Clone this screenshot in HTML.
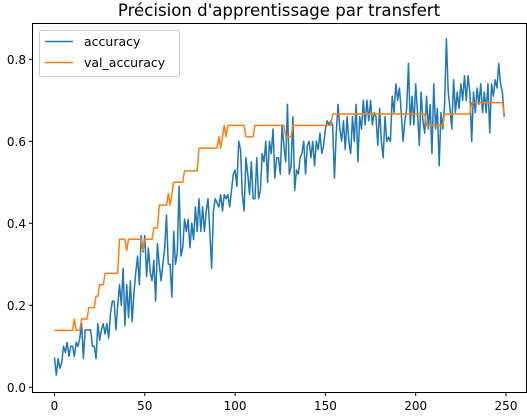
<!DOCTYPE html>
<html><head><meta charset="utf-8"><style>
body{margin:0;background:#fff}
svg{display:block;font-family:"DejaVu Sans","Liberation Sans",sans-serif}
</style></head><body>
<svg id="chart" width="527" height="416" viewBox="0 0 527 416" xmlns="http://www.w3.org/2000/svg">
<text x="279" y="16" text-anchor="middle" font-size="16.6">Précision d'apprentissage par transfert</text>
<rect x="32.5" y="23.5" width="494" height="369" fill="none" stroke="#000" stroke-width="1"/>
<g id="xticks"></g><g id="yticks"></g>
<polyline id="acc" fill="none" stroke="#1f77b4" stroke-width="1.5" stroke-linejoin="round"/>
<polyline id="val" fill="none" stroke="#ff7f0e" stroke-width="1.5" stroke-linejoin="round"/>
<g>
<rect x="39.5" y="30.5" width="140" height="46" rx="2" fill="#fff" fill-opacity="0.8" stroke="#ccc"/>
<line x1="45" y1="41.5" x2="73" y2="41.5" stroke="#1f77b4" stroke-width="1.5"/>
<text x="84" y="46" font-size="12.5">accuracy</text>
<line x1="45" y1="62.5" x2="73" y2="62.5" stroke="#ff7f0e" stroke-width="1.5"/>
<text x="84" y="67" font-size="12.5">val_accuracy</text>
</g>
</svg>
<script>
const accuracy=[.073,.03,.07,.046,.06,.1,.085,.11,.075,.1,.1,.075,.11,.1,.12,.155,.07,.14,.14,.14,
.14,.1,.1,.07,.155,.115,.14,.155,.13,.155,.12,.18,.21,.21,.14,.2,.25,.2,.29,.15,
.25,.17,.26,.16,.23,.28,.32,.25,.37,.33,.37,.27,.34,.28,.26,.31,.21,.35,.3,.26,
.3,.34,.42,.3,.3,.22,.38,.3,.33,.49,.32,.34,.41,.38,.41,.34,.4,.36,.44,.38,
.46,.38,.44,.38,.43,.46,.38,.29,.43,.46,.45,.44,.47,.43,.47,.46,.47,.44,.48,.52,
.53,.49,.6,.58,.47,.43,.56,.52,.47,.55,.46,.46,.56,.46,.48,.57,.55,.6,.5,.6,
.57,.63,.51,.56,.56,.52,.64,.59,.55,.69,.52,.54,.66,.48,.53,.52,.56,.57,.6,.52,
.59,.6,.56,.6,.54,.6,.58,.62,.57,.59,.63,.65,.64,.65,.64,.51,.62,.69,.63,.6,
.65,.58,.66,.6,.57,.66,.6,.69,.55,.66,.63,.7,.64,.7,.65,.7,.64,.67,.66,.59,
.68,.6,.56,.66,.6,.61,.6,.71,.67,.74,.7,.73,.67,.6,.65,.68,.79,.64,.71,.64,
.74,.67,.59,.72,.65,.62,.71,.63,.69,.57,.74,.63,.68,.54,.67,.63,.69,.85,.72,.68,
.63,.75,.67,.72,.68,.74,.7,.76,.7,.76,.72,.6,.72,.67,.73,.69,.74,.67,.72,.67,
.74,.62,.74,.71,.75,.73,.79,.74,.72,.66];
const valSteps=[[0,5],[11,6],[12,5],[15,6],[19,7],[23,8],[25,9],[28,10],[36,13],[40,12],[41,13],[49,12],[50,13],[55,14],[58,16],[63,17],[64,16],[65,17],[66,18],[72,19],[80,21],[91,22],[92,21],[93,22],[94,23],[95,22],[96,23],[106,22],[111,23],[128,22],[132,23],[154,24],[206,23],[216,24],[231,25],[249,24]];
const valDenominator=36;
const xTicks=[0,50,100,150,200,250];
const yTicks=[0.0,0.2,0.4,0.6,0.8];
const yLabels=["0.0","0.2","0.4","0.6","0.8"];
const N=accuracy.length;
const valAccuracy=[];
for(let i=0;i<N;i++){let c=5;for(const s of valSteps){if(i>=s[0])c=s[1];}valAccuracy.push(c/valDenominator);}
const xs=i=>54.5+i*(506-54.5)/250;
const ys=v=>387.3-v*410;
const NS="http://www.w3.org/2000/svg";
document.getElementById('acc').setAttribute('points',accuracy.map((v,i)=>xs(i).toFixed(2)+','+ys(v).toFixed(2)).join(' '));
document.getElementById('val').setAttribute('points',valAccuracy.map((v,i)=>xs(i).toFixed(2)+','+ys(v).toFixed(2)).join(' '));
const xg=document.getElementById('xticks');
xTicks.forEach(t=>{
 const l=document.createElementNS(NS,'line');
 
 
 l.setAttribute('x1',xs(t));l.setAttribute('x2',xs(t));l.setAttribute('y1',392.5);l.setAttribute('y2',396);l.setAttribute('stroke','#000');
 xg.appendChild(l);
 const tx=document.createElementNS(NS,'text');
 
 
 tx.setAttribute('x',xs(t));tx.setAttribute('y',410);tx.setAttribute('text-anchor','middle');tx.setAttribute('font-size','12');
 tx.textContent=t;xg.appendChild(tx);
});
const yg=document.getElementById('yticks');
yTicks.forEach((t,k)=>{
 const l=document.createElementNS(NS,'line');
 
 
 l.setAttribute('x1',29);l.setAttribute('x2',32.5);l.setAttribute('y1',ys(t));l.setAttribute('y2',ys(t));l.setAttribute('stroke','#000');
 yg.appendChild(l);
 const tx=document.createElementNS(NS,'text');
 
 
 tx.setAttribute('x',26);tx.setAttribute('y',ys(t)+4.5);tx.setAttribute('text-anchor','end');tx.setAttribute('font-size','12');
 tx.textContent=yLabels[k];yg.appendChild(tx);
});
</script>
</body></html>
